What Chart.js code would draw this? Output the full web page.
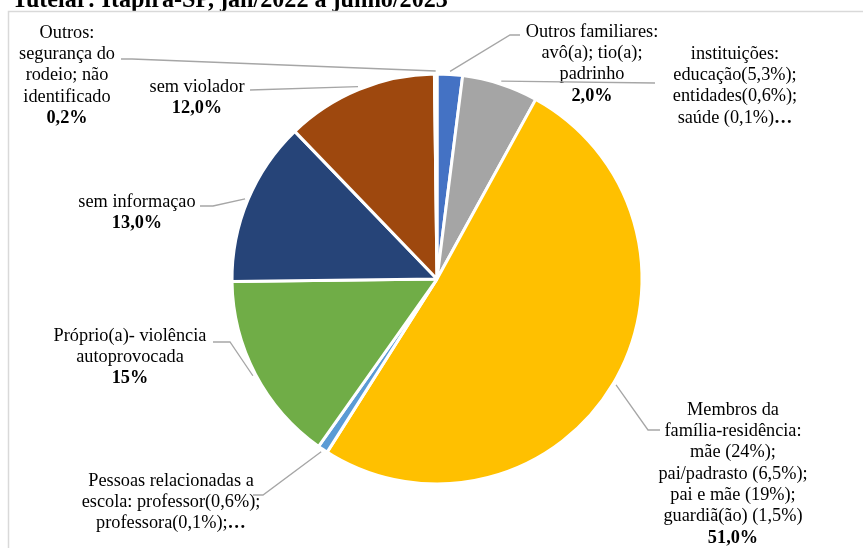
<!DOCTYPE html>
<html lang="pt-BR">
<head>
<meta charset="utf-8">
<title>Violador - Conselho Tutelar</title>
<script src="https://cdn.jsdelivr.net/npm/chart.js@4.4.1/dist/chart.umd.min.js"></script>
<style>
  html, body { margin: 0; padding: 0; background: #fff; overflow: hidden; }
  #wrap { position: relative; width: 863px; height: 548px; }
</style>
</head>
<body>
<div id="wrap"><canvas id="violadorChart" width="863" height="548"></canvas></div>
<script>
// Tutelar: violador, jan/2022 a junho/2023
const title = 'Tutelar: Itapira-SP, jan/2022 a junho/2023';

const categories = [
    ['Outros familiares:', 'avô(a); tio(a);', 'padrinho'],
    ['instituições:', 'educação(5,3%);', 'entidades(0,6%);', 'saúde (0,1%)'],
    ['Membros da', 'família-residência:', 'mãe (24%);', 'pai/padrasto (6,5%);', 'pai e mãe (19%);', 'guardiã(ão) (1,5%)'],
    ['Pessoas relacionadas a', 'escola: professor(0,6%);', 'professora(0,1%);'],
    ['Próprio(a)- violência', 'autoprovocada'],
    ['sem informaçao'],
    ['sem violador'],
    ['Outros:', 'segurança do', 'rodeio; não', 'identificado']
];
const percentages = [2.0, 6.0, 51.0, 0.8, 15, 13.0, 12.0, 0.2];
const decimals = [1, 1, 1, 1, 0, 1, 1, 1];
// labels that were cut short show "…" instead of their value
const showValue = [true, false, true, false, true, true, true, true];
const sliceColors = ['#4472C4', '#A5A5A5', '#FFC000', '#5B9BD5', '#70AD47', '#264478', '#9E480E', '#636363'];

// where each label sits (x = centre of text, y = middle of first line) and its leader bends
const labelPlaces = [
    { x: 592, y: 32, leader: [[510, 35], [520, 35]] },
    { x: 735, y: 54, leader: [[655, 83]] },
    { x: 733, y: 410, leader: [[648, 430], [660, 430]] },
    { x: 171, y: 481, leader: [[263, 495], [253, 495]] },
    { x: 130, y: 336, leader: [[230, 342], [213, 342]] },
    { x: 137, y: 202, leader: [[213, 206], [200, 206]] },
    { x: 197, y: 87, leader: [[250, 90]] },
    { x: 67, y: 33, leader: [[132, 59], [121, 59]] }
];

const fontFamily = '"Liberation Serif", "Times New Roman", serif';
const fontSize = 18.3;
const lineGap = 21.3;

function formatPct(v, d) {
    return v.toFixed(d).replace('.', ',') + '%';
}

// white page, clipped title and the light frame around the chart
const framePlugin = {
    id: 'frame',
    beforeDraw(chart) {
        const ctx = chart.ctx;
        ctx.save();
        ctx.fillStyle = '#fff';
        ctx.fillRect(0, 0, chart.width, chart.height);

        ctx.font = 'bold 22px ' + fontFamily;
        const w = ctx.measureText(title).width;
        ctx.font = 'bold ' + (22 * 436 / w).toFixed(2) + 'px ' + fontFamily;
        ctx.fillStyle = '#000';
        ctx.textBaseline = 'alphabetic';
        ctx.textAlign = 'left';
        ctx.fillText(title, 12, 6.5);

        ctx.strokeStyle = '#d9d9d9';
        ctx.lineWidth = 1.5;
        ctx.strokeRect(8.5, 11.5, chart.width + 20, chart.height + 20);
        ctx.restore();
    }
};

// category + value labels with leader lines from the slice edge
const sliceLabelPlugin = {
    id: 'sliceLabels',
    afterDatasetsDraw(chart) {
        const ctx = chart.ctx;
        const arcs = chart.getDatasetMeta(0).data;
        ctx.save();
        arcs.forEach(function(arc, i) {
            const p = arc.getProps(['x', 'y', 'startAngle', 'endAngle', 'outerRadius'], true);
            const mid = (p.startAngle + p.endAngle) / 2;
            const r = p.outerRadius + 3;
            const place = labelPlaces[i];

            ctx.beginPath();
            ctx.moveTo(p.x + Math.cos(mid) * r, p.y + Math.sin(mid) * r);
            place.leader.forEach(function(pt) { ctx.lineTo(pt[0], pt[1]); });
            ctx.strokeStyle = '#a6a6a6';
            ctx.lineWidth = 1.3;
            ctx.stroke();

            ctx.fillStyle = '#000';
            ctx.textBaseline = 'middle';
            ctx.textAlign = 'center';
            const lines = categories[i];
            lines.forEach(function(line, k) {
                const y = place.y + k * lineGap;
                ctx.font = fontSize + 'px ' + fontFamily;
                if (k === lines.length - 1 && !showValue[i]) {
                    // regular text followed by a bold ellipsis
                    const tw = ctx.measureText(line).width;
                    ctx.font = 'bold ' + fontSize + 'px ' + fontFamily;
                    const ew = ctx.measureText('…').width;
                    const left = place.x - (tw + ew) / 2;
                    ctx.textAlign = 'left';
                    ctx.font = fontSize + 'px ' + fontFamily;
                    ctx.fillText(line, left, y);
                    ctx.font = 'bold ' + fontSize + 'px ' + fontFamily;
                    ctx.fillText('…', left + tw, y);
                    ctx.textAlign = 'center';
                } else {
                    ctx.fillText(line, place.x, y);
                }
            });
            if (showValue[i]) {
                ctx.font = 'bold ' + fontSize + 'px ' + fontFamily;
                ctx.fillText(formatPct(percentages[i], decimals[i]), place.x, place.y + lines.length * lineGap);
            }
        });
        ctx.restore();
    }
};

const ctx = document.getElementById('violadorChart');
new Chart(ctx, {
    type: 'pie',
    data: {
        labels: categories,
        datasets: [{
            data: percentages,
            backgroundColor: sliceColors,
            borderColor: '#ffffff',
            borderWidth: 3
        }]
    },
    options: {
        responsive: false,
        animation: false,
        radius: 205,
        layout: { padding: { left: 11, top: 10, right: 0, bottom: 0 } },
        plugins: {
            legend: { display: false },
            tooltip: { enabled: false }
        }
    },
    plugins: [framePlugin, sliceLabelPlugin]
});
</script>
</body>
</html>
